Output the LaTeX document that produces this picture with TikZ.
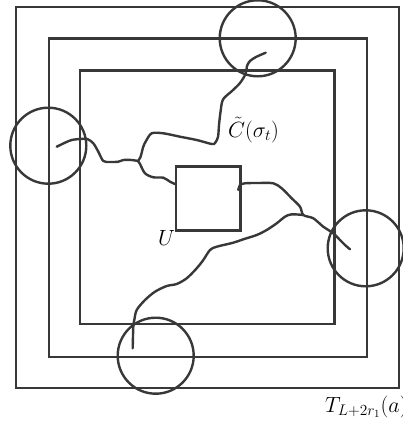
\documentclass[tikz,border=0pt]{standalone}
\usepackage{fix-cm}
\begin{document}
\begin{tikzpicture}[x=1pt,y=-1pt,
  ln/.style={line width=2.4pt,draw=black!78},
  ring/.style={circle,line width=2.4pt,draw=black!78,minimum size=76pt,inner sep=0pt},
  wig/.style={line width=2.4pt,draw=black!78,line join=round,line cap=round},
  lab/.style={inner sep=0pt,font=\fontsize{22}{26}\selectfont}]
\useasboundingbox (0,0) rectangle (403,423);
% squares
\draw[ln] (16,6.7) rectangle (399,388);
\draw[ln] (49,38.3) rectangle (366.7,356.7);
\draw[ln] (80,70.3) rectangle (334.3,324);
\node[ln,draw,minimum width=64.3pt,minimum height=64pt,inner sep=0pt,anchor=north west] (Ubox) at (175,165.3) {};
% circles
\node[ring] (ctop) at (257.7,38.3) {};
\node[ring] (cleft) at (48.3,145.7) {};
\node[ring] (cright) at (365.7,248.3) {};
\node[ring] (cbot) at (155.7,355.7) {};
% junctions
\coordinate (j1) at (138,161);
\coordinate (j2) at (303.3,215);
% left cluster
\draw[wig] plot[smooth,tension=0.5] coordinates {(265.7,52.7) (256,57) (250,61) (247,66) (245.5,74) (240,83) (232,91) (223,99.5) (220.5,112) (219,125) (218,137) (215,143) (211.7,144) (196.7,140) (180,136.7) (163.3,133.3) (151.7,133.3) (146,141) (143.3,146.7) (140.5,157) (138,161)};
\draw[wig] plot[smooth,tension=0.5] coordinates {(138,161) (131.7,160) (123.3,160) (118.3,161.7) (110,162) (103.3,161) (98.3,151.7) (93.3,143.3) (87.3,139) (80,139) (71.7,140) (65,142.7) (56.7,146.7)};
\draw[wig] plot[smooth,tension=0.5] coordinates {(138,161) (140,164) (145,173.3) (153.3,177.3) (163.3,177.7) (170,181.7) (175,184)};
% right cluster
\draw[wig] plot[smooth,tension=0.5] coordinates {(238.3,190) (240,185) (245,183.3) (258,183) (273.3,183.3) (281.7,188.3) (291.7,198.3) (300,206.7) (303.3,215) (313.3,218.3) (323.3,226.7) (333.3,233.3) (340,240) (345,245) (350,249.3)};
\draw[wig] plot[smooth,tension=0.5] coordinates {(303.3,215) (291.7,214.3) (285,216.7) (276.7,223.3) (266.7,230) (256.7,235) (243.3,239.3) (233.3,242.7) (216.7,246.7) (210,250) (203.3,260) (196.7,268.3) (186.7,278.3) (176.7,284) (166.7,286) (155,291.7) (145,300) (136.7,310) (134.3,320) (133.3,326.7) (132.7,348.3)};
% labels
\node[lab,anchor=base west] (lC) at (228,137.5) {$\tilde{C}(\sigma_t)$};
\node[lab,anchor=base west] (lU) at (158,245) {$U$};
\node[lab,anchor=base west] (lT) at (325,412) {$T_{L+2r_1}(a)$};
\end{tikzpicture}
\end{document}
